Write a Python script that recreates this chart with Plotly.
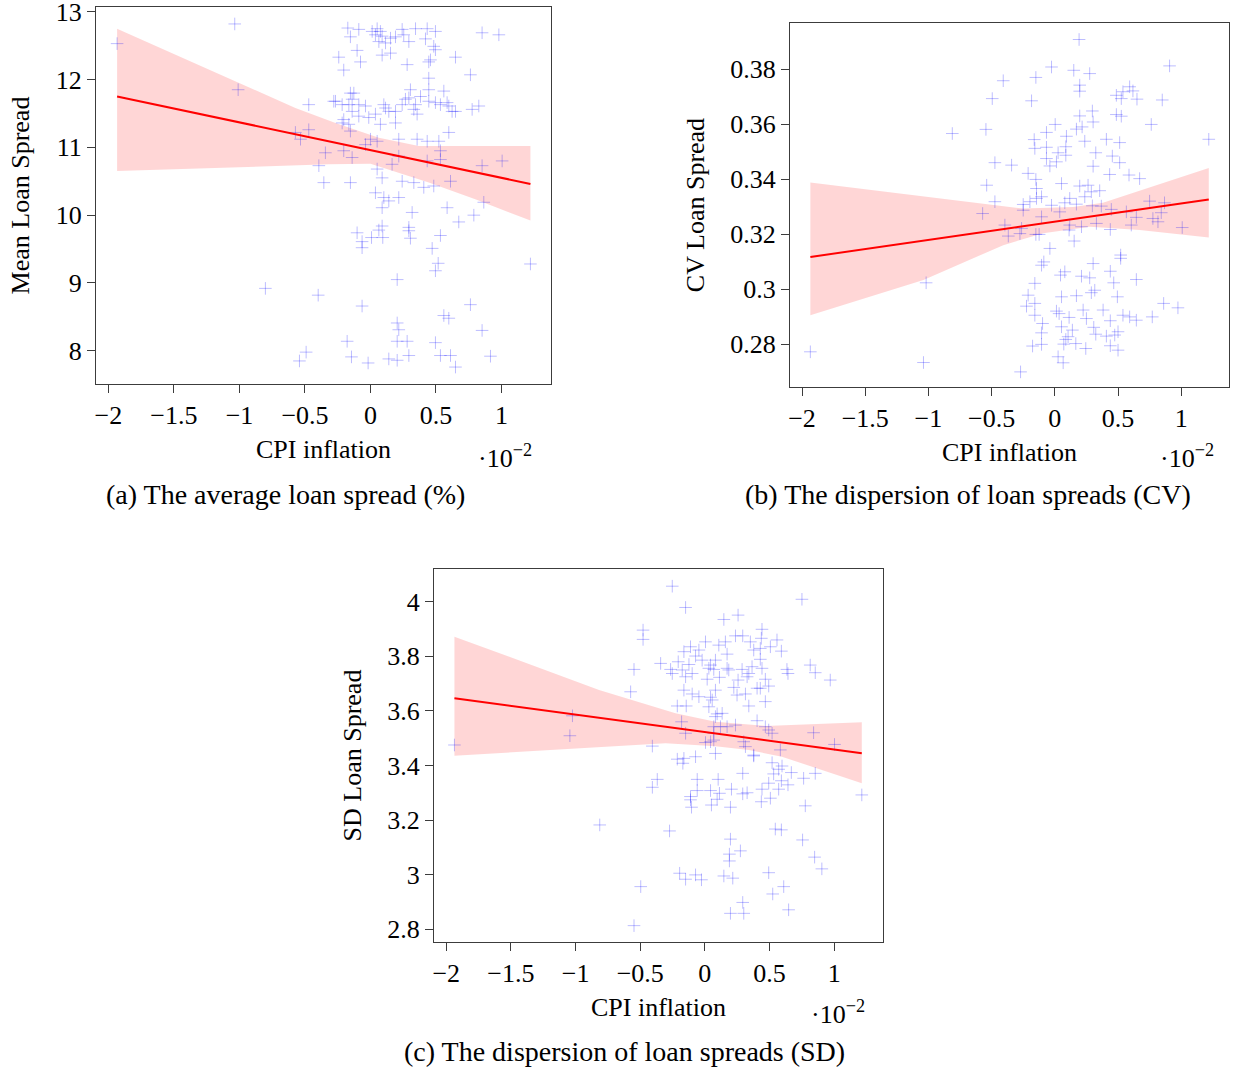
import plotly.graph_objects as go

# ---------------- data ----------------
# (a) mean loan spread vs CPI inflation (x in units of 1e-2)
a_x = [-1.934, -1.036, -0.173, -0.089, -0.153, 0.013, 0.051, 0.076, 0.038, 0.089, 0.064, 0.115, 0.153, 0.191,
       0.242, 0.254, 0.293, 0.344, 0.433, 0.496, 0.420, 0.483, 0.496, 0.852, 0.980, -0.242, -0.102, -0.076,
       -0.204, 0.089, 0.153, 0.280, 0.458, 0.445, 0.649, 0.763, 0.445, -1.010, -0.471, -0.267, -0.280, -0.216,
       -0.153, -0.127, -0.140, -0.165, -0.089, -0.038, -0.140, -0.089, -0.013, 0.038, 0.102, 0.115, 0.140,
       0.191, 0.242, 0.267, 0.305, 0.293, 0.344, 0.331, 0.356, 0.382, 0.445, 0.445, 0.496, 0.560, 0.534,
       0.585, 0.598, 0.623, 0.649, 0.776, 0.827, -0.204, -0.165, -0.216, 0.076, 0.191, -0.153, 0.598, -0.573,
       -0.534, -0.471, -0.344, -0.204, -0.140, 0.000, 0.051, -0.038, 0.216, 0.356, 0.433, 0.522, 0.534, 0.534,
       0.216, 0.165, 0.433, 0.852, 1.005, -0.394, 0.051, 0.089, 0.242, 0.331, 0.407, 0.483, 0.611, -0.356,
       -0.153, 0.038, 0.102, 0.140, 0.216, 0.089, 0.318, 0.585, 0.674, 0.789, 0.865, -0.102, -0.064, -0.064,
       0.008, 0.064, 0.089, 0.094, 0.293, 0.293, 0.305, 0.534, 0.471, 0.517, 0.496, 1.221, 0.204, -0.802,
       -0.399, -0.064, 0.763, 0.560, 0.598, 0.204, 0.216, 0.852, -0.178, 0.204, 0.280, 0.496, -0.491, -0.542,
       -0.145, -0.018, 0.140, 0.204, 0.293, 0.534, 0.611, 0.649, 0.916]
a_y = [12.53, 12.82, 12.76, 12.74, 12.63, 12.71, 12.75, 12.71, 12.66, 12.64, 12.56, 12.54, 12.61, 12.63,
       12.74, 12.66, 12.56, 12.75, 12.75, 12.71, 12.60, 12.49, 12.44, 12.69, 12.66, 12.33, 12.43, 12.26,
       12.14, 12.36, 12.39, 12.22, 12.29, 12.26, 12.33, 12.07, 12.02, 11.85, 11.63, 11.68, 11.68, 11.63,
       11.80, 11.80, 11.71, 11.63, 11.63, 11.61, 11.53, 11.46, 11.44, 11.49, 11.63, 11.58, 11.53,
       11.53, 11.63, 11.71, 11.85, 11.73, 11.63, 11.56, 11.49, 11.75, 11.85, 11.68, 11.66, 11.83, 11.63,
       11.66, 11.61, 11.53, 11.53, 11.56, 11.61, 11.41, 11.34, 11.36, 11.34, 11.36, 11.24, 11.22, 11.22,
       11.12, 11.26, 10.92, 10.95, 10.85, 11.12, 11.09, 11.04, 11.12, 11.12, 11.09, 11.09, 10.95, 10.82,
       10.87, 10.75, 10.80, 10.73, 10.80, 10.73, 10.68, 10.55, 10.50, 10.48, 10.41, 10.43, 10.50, 10.48,
       10.48, 10.33, 10.26, 10.21, 10.26, 10.11, 10.04, 10.11, 9.90, 10.00, 10.19, 9.74, 9.61, 9.52,
       9.67, 9.78, 9.84, 9.67, 9.82, 9.77, 9.66, 9.70, 9.51, 9.29, 9.18, 9.28, 9.05, 8.92,
       8.82, 8.66, 8.68, 8.52, 8.48, 8.41, 8.31, 8.30, 8.14, 8.14, 8.14, 8.12, 7.98, 7.85,
       7.91, 7.82, 7.88, 7.86, 7.93, 7.93, 7.93, 7.76, 7.92]
a_fit_x = [-1.934, 1.221]
a_fit_y = [11.75, 10.46]
a_band_up_x = [-1.934, -0.573, -0.267, 0.064, 0.369, 1.221]
a_band_up = [12.75, 11.58, 11.36, 11.14, 11.02, 11.02]
a_band_lo_x = [-1.934, -0.318, 0.0, 0.445, 0.80, 1.221]
a_band_lo = [10.65, 10.75, 10.76, 10.48, 10.235, 9.92]

# (b) CV of loan spreads
b_x = [0.192, -0.026, 0.150, 0.276, 0.908, -0.408, -0.150, 0.197, 0.197, -0.495, -0.184, 0.487, 0.539,
       0.592, 0.618, 0.526, 0.650, 0.850, 0.487, 0.526, 0.197, 0.297, 0.303, 0.763, -0.811, -0.545, 0.003,
       -0.066, 0.171, 0.216, 0.092, -0.163, 0.237, 0.408, 0.513, 1.218, -0.158, -0.066, 0.026, 0.087, 0.087,
       0.324, 0.455, -0.066, -0.039, 0.013, 0.513, 0.303, -0.474, -0.342, -0.211, -0.150, 0.434, 0.587,
       0.671, -0.539, -0.145, 0.053, 0.197, 0.263, 0.289, 0.355, -0.145, -0.105, -0.197, 0.237, -0.474,
       -0.250, -0.026, 0.118, 0.079, 0.171, 0.297, 0.368, 0.447, 0.750, 0.868, -0.571, -0.250, 0.039,
       -0.105, 0.566, 0.842, 0.645, 0.776, -0.395, -0.368, -0.276, -0.263, -0.150, -0.124, 0.118, 0.113,
       0.211, 0.329, 0.439, 0.605, 0.816, 1.008, 0.153, -0.039, -0.105, -0.087, 0.521, 0.521, 0.303,
       -1.018, -0.158, 0.045, 0.079, 0.211, 0.276, 0.439, 0.466, 0.645, -0.211, -0.224, -0.158, -0.158,
       0.053, 0.171, 0.289, 0.316, 0.495, 0.013, 0.034, 0.113, 0.224, 0.250, 0.382, 0.439, 0.539, 0.592,
       0.645, 0.771, 0.861, 0.974, -0.097, -0.105, 0.053, 0.139, 0.105, 0.087, 0.308, 0.324, 0.408, 0.474,
       0.500, 0.071, 0.166, 0.245, -0.176, -0.105, 0.439, 0.500, -1.934, -1.039, 0.026, 0.066, -0.271]
b_y = [0.3908, 0.3808, 0.3796, 0.3784, 0.3812, 0.3758, 0.3770, 0.3742, 0.3720, 0.3693, 0.3685, 0.3705, 0.3718,
       0.3736, 0.3721, 0.3693, 0.3691, 0.3688, 0.3635, 0.3629, 0.3630, 0.3648, 0.3608, 0.3599, 0.3566, 0.3581, 0.3599,
       0.3570, 0.3582, 0.3590, 0.3556, 0.3544, 0.3538, 0.3545, 0.3533, 0.3545, 0.3512, 0.3516, 0.3496, 0.3518, 0.3487,
       0.3496, 0.3484, 0.3475, 0.3448, 0.3463, 0.3460, 0.3447, 0.3460, 0.3451, 0.3421, 0.3399, 0.3417, 0.3415,
       0.3402, 0.3378, 0.3366, 0.3384, 0.3375, 0.3378, 0.3354, 0.3358, 0.3330, 0.3336, 0.3318, 0.3336, 0.3318,
       0.3308, 0.3305, 0.3330, 0.3314, 0.3309, 0.3303, 0.3302, 0.3290, 0.3320, 0.3314, 0.3275, 0.3287, 0.3281,
       0.3263, 0.3281, 0.3278, 0.3261, 0.3257, 0.3233, 0.3193, 0.3202, 0.3221, 0.3199, 0.3199, 0.3233, 0.3215,
       0.3227, 0.3239, 0.3217, 0.3233, 0.3245, 0.3224, 0.3175, 0.3148, 0.3087, 0.3099, 0.3124, 0.3112, 0.3093,
       0.3023, 0.3021, 0.3051, 0.3063, 0.3047, 0.3041, 0.3065, 0.3023, 0.3035, 0.2978, 0.2938, 0.2948, 0.2905,
       0.2972, 0.2976, 0.2987, 0.2996, 0.2972, 0.2920, 0.2911, 0.2897, 0.2924, 0.2893, 0.2924, 0.2885, 0.2905, 0.2899,
       0.2887, 0.2899, 0.2948, 0.2932, 0.2875, 0.2841, 0.2863, 0.2851, 0.2827, 0.2817, 0.2861, 0.2836, 0.2829, 0.2833,
       0.2845, 0.2800, 0.2802, 0.2784, 0.2793, 0.2799, 0.2794, 0.2778, 0.2772, 0.2733, 0.2754, 0.2732, 0.2699]
b_fit_x = [-1.934, 1.218]
b_fit_y = [0.3117, 0.3326]
b_band_up_x = [-1.934, -0.566, -0.25, 0.144, 0.381, 1.218]
b_band_up = [0.3388, 0.3309, 0.3293, 0.3299, 0.3314, 0.3441]
b_band_lo_x = [-1.934, -1.039, -0.408, -0.092, 0.276, 0.671, 1.218]
b_band_lo = [0.2905, 0.3033, 0.3160, 0.3203, 0.3227, 0.3215, 0.3188]

# (c) SD of loan spreads
c_x = [-0.252, -0.149, 0.751, 0.147, 0.257, -0.478, -0.478, 0.442, 0.237, 0.293, 0.437, 0.558, 0.005,
       0.108, 0.159, 0.352, -0.111, -0.046, -0.162, 0.378, 0.429, 0.507, 0.592, 0.172, -0.072, -0.021,
       0.429, 0.082, -0.342, -0.206, -0.123, 0.044, 0.031, 0.069, 0.172, 0.185, 0.288, 0.365, 0.442, -0.548,
       -0.265, -0.252, -0.175, 0.635, 0.643, 0.815, 0.854, 0.970, -0.149, -0.098, 0.018, 0.113, 0.257, 0.327,
       0.340, 0.468, 0.494, 0.224, 0.404, 0.429, -0.162, 0.082, -0.574, -0.098, -0.046, 0.044, 0.057, 0.249,
       0.314, 0.468, -0.213, -0.144, 0.031, 0.340, 0.095, 0.134, 0.082, -1.024, -0.180, 0.404, 0.069, 0.121,
       0.172, 0.237, 0.468, 0.494, 0.520, -0.149, 0.069, -1.044, 0.841, -1.937, -0.406, 0.005, 0.044, 0.069,
       0.301, 0.314, 0.584, 1.003, 0.082, 0.378, -0.213, -0.162, -0.170, -0.072, 0.378, 0.520, 0.597, 0.571,
       0.532, 0.669, 0.854, 0.764, 0.293, -0.368, -0.059, 0.103, 0.592, 0.494, 0.643, -0.406, -0.059, 0.044,
       0.206, 0.442, 0.571, -0.111, 0.113, 0.293, 0.327, -0.111, 0.095, 0.437, 0.507, 1.214, -0.103, 0.051,
       0.198, 0.777, -0.813, -0.273, 0.545, 0.592, 0.198, 0.756, 0.275, 0.190, 0.190, 0.849, 0.905, 0.494,
       -0.195, -0.149, -0.072, -0.026, 0.147, 0.216, -0.496, 0.610, 0.525, 0.293, 0.648, 0.198, 0.301, -0.548]
c_y = [4.057, 3.979, 4.009, 3.935, 3.951, 3.896, 3.862, 3.899, 3.875, 3.875, 3.866, 3.860, 3.853,
       3.841, 3.853, 3.853, 3.835, 3.823, 3.817, 3.823, 3.829, 3.835, 3.819, 3.808, 3.801, 3.786,
       3.789, 3.786, 3.774, 3.780, 3.770, 3.768, 3.756, 3.752, 3.756, 3.750, 3.752, 3.762, 3.756, 3.752,
       3.752, 3.737, 3.750, 3.752, 3.737, 3.768, 3.740, 3.713, 3.725, 3.737, 3.716, 3.723, 3.713, 3.725,
       3.737, 3.716, 3.691, 3.686, 3.683, 3.683, 3.676, 3.676, 3.670, 3.662, 3.652, 3.650, 3.640, 3.658,
       3.662, 3.634, 3.618, 3.618, 3.615, 3.618, 3.589, 3.591, 3.579, 3.582, 3.560, 3.564, 3.542, 3.542,
       3.542, 3.548, 3.542, 3.530, 3.518, 3.518, 3.518, 3.509, 3.520, 3.475, 3.471, 3.484, 3.487, 3.493,
       3.487, 3.469, 3.457, 3.477, 3.444, 3.438, 3.423, 3.426, 3.408, 3.432, 3.435, 3.410, 3.398, 3.386,
       3.369, 3.374, 3.371, 3.353, 3.371, 3.349, 3.349, 3.349, 3.344, 3.335, 3.329, 3.320, 3.308, 3.308,
       3.313, 3.313, 3.313, 3.286, 3.298, 3.296, 3.300, 3.274, 3.276, 3.267, 3.280, 3.292, 3.247, 3.255,
       3.247, 3.252, 3.182, 3.160, 3.167, 3.164, 3.130, 3.127, 3.087, 3.075, 3.050, 3.064, 3.021, 3.007,
       3.005, 2.983, 2.999, 2.981, 2.995, 2.987, 2.956, 2.956, 2.929, 2.898, 2.871, 2.858, 2.858, 2.813]
c_fit_x = [-1.937, 1.214]
c_fit_y = [3.646, 3.445]
c_band_up_x = [-1.937, -0.818, -0.227, 0.082, 0.468, 1.214]
c_band_up = [3.872, 3.677, 3.591, 3.560, 3.545, 3.558]
c_band_lo_x = [-1.937, -0.304, 0.082, 0.340, 0.596, 1.214]
c_band_lo = [3.436, 3.481, 3.470, 3.457, 3.432, 3.335]

x_ticks = [-2, -1.5, -1, -0.5, 0, 0.5, 1]
x_ticktext = ["−2", "−1.5", "−1", "−0.5", "0", "0.5", "1"]
a_yticks = [8, 9, 10, 11, 12, 13]
a_yticktext = ["8", "9", "10", "11", "12", "13"]
b_yticks = [0.28, 0.30, 0.32, 0.34, 0.36, 0.38]
b_yticktext = ["0.28", "0.3", "0.32", "0.34", "0.36", "0.38"]
c_yticks = [2.8, 3.0, 3.2, 3.4, 3.6, 3.8, 4.0]
c_yticktext = ["2.8", "3", "3.2", "3.4", "3.6", "3.8", "4"]

x_title = "CPI inflation"
y_titles = ["Mean Loan Spread", "CV Loan Spread", "SD Loan Spread"]
captions = ["(a) The average loan spread (%)",
            "(b) The dispersion of loan spreads (CV)",
            "(c) The dispersion of loan spreads (SD)"]

# ---------------- figure ----------------
W, H = 1236, 1067
FONT = "Liberation Serif"
FS = 26
CAP_FS = 28
MARK = "rgba(0,0,255,0.26)"
BAND = "rgba(255,0,0,0.16)"
AXC = "rgb(60,60,60)"

fig = go.Figure()

panels = [
    dict(px=a_x, py=a_y, fx=a_fit_x, fy=a_fit_y, ux=a_band_up_x, uy=a_band_up, lx=a_band_lo_x, ly=a_band_lo,
         xd=(96, 551), yd=(7, 384), yr=(7.51, 13.07), yt=a_yticks, ytt=a_yticktext),
    dict(px=b_x, py=b_y, fx=b_fit_x, fy=b_fit_y, ux=b_band_up_x, uy=b_band_up, lx=b_band_lo_x, ly=b_band_lo,
         xd=(790, 1229), yd=(23, 387), yr=(0.2644, 0.3968), yt=b_yticks, ytt=b_yticktext),
    dict(px=c_x, py=c_y, fx=c_fit_x, fy=c_fit_y, ux=c_band_up_x, uy=c_band_up, lx=c_band_lo_x, ly=c_band_lo,
         xd=(434, 883), yd=(569, 942), yr=(2.753, 4.120), yt=c_yticks, ytt=c_yticktext),
]

layout = dict(width=W, height=H, margin=dict(l=0, r=0, t=0, b=0), paper_bgcolor="white",
              plot_bgcolor="white", showlegend=False, font=dict(family=FONT, size=FS, color="black"))

for i, p in enumerate(panels):
    n = "" if i == 0 else str(i + 1)
    xa, ya = "x" + n, "y" + n
    # band
    fig.add_trace(go.Scatter(x=p["ux"] + p["lx"][::-1], y=p["uy"] + p["ly"][::-1], fill="toself",
                             fillcolor=BAND, line=dict(width=0), mode="lines", hoverinfo="skip",
                             xaxis=xa, yaxis=ya))
    fig.add_trace(go.Scatter(x=p["px"], y=p["py"], mode="markers",
                             marker=dict(symbol="cross-thin", size=9, line=dict(width=1, color=MARK)),
                             xaxis=xa, yaxis=ya))
    fig.add_trace(go.Scatter(x=p["fx"], y=p["fy"], mode="lines", line=dict(color="red", width=2),
                             xaxis=xa, yaxis=ya))
    x0, x1 = p["xd"]
    y0, y1 = p["yd"]
    common = dict(showline=True, linecolor=AXC, linewidth=1.2, mirror=True, showgrid=False, zeroline=False,
                  ticks="outside", ticklen=8, tickwidth=1.2, tickcolor=AXC, automargin=False,
                  ticklabeloverflow="allow",
                  tickfont=dict(family=FONT, size=FS, color="black"))
    layout["xaxis" + n] = dict(common, domain=[x0 / W, x1 / W], range=[-2.095, 1.378], anchor=ya,
                               tickvals=x_ticks, ticktext=x_ticktext,
                               title=dict(text=x_title, standoff=10, font=dict(family=FONT, size=FS)))
    layout["yaxis" + n] = dict(common, domain=[1 - y1 / H, 1 - y0 / H], range=list(p["yr"]), anchor=xa,
                               tickvals=p["yt"], ticktext=p["ytt"],
                               title=dict(text=y_titles[i], standoff=18, font=dict(family=FONT, size=FS)))

ann = []
mult_pos = [(505, 457), (1187, 457), (838, 1012)]
cap_pos = [(285, 494), (968, 494), (624, 1051)]
for (mx, my), (cx, cy), cap in zip(mult_pos, cap_pos, captions):
    ann.append(dict(x=mx / W, y=1 - my / H, xref="paper", yref="paper", text="·10<sup>−2</sup>",
                    showarrow=False, xanchor="center", yanchor="middle", font=dict(family=FONT, size=FS)))
    ann.append(dict(x=cx / W, y=1 - cy / H, xref="paper", yref="paper", text=cap,
                    showarrow=False, xanchor="center", yanchor="middle", font=dict(family=FONT, size=CAP_FS)))
layout["annotations"] = ann

fig.update_layout(**layout)
fig.write_html("out.html", config={"displayModeBar": False})
